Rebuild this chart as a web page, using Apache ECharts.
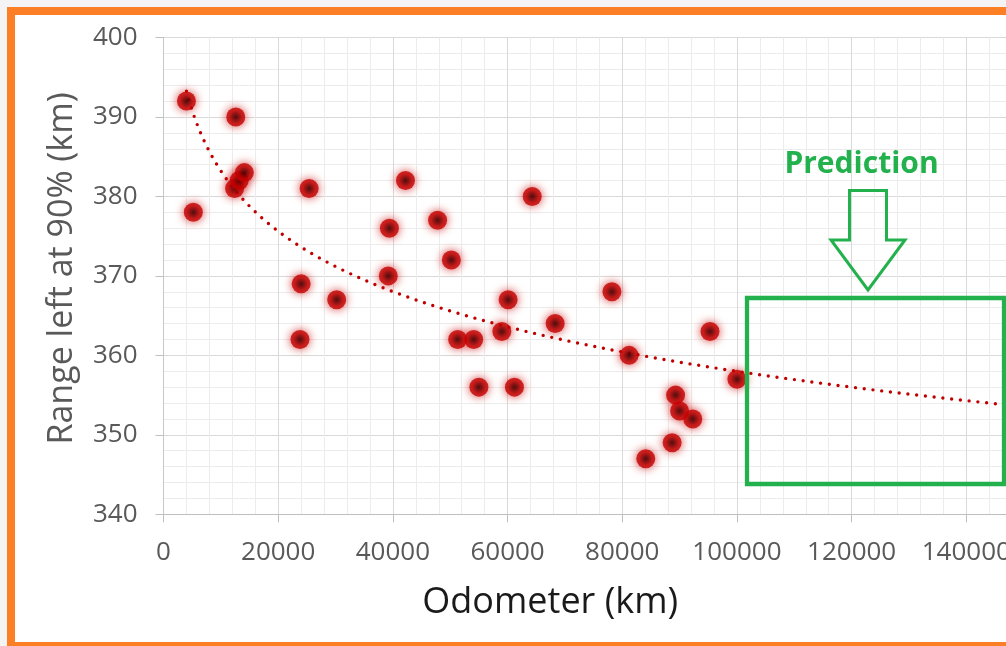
<!DOCTYPE html>
<html>
<head>
<meta charset="utf-8">
<script src="https://cdn.jsdelivr.net/npm/echarts@6/dist/echarts.min.js"></script>
<style>
  html, body { margin: 0; padding: 0; background: #f4f4f4; }
  #chart { width: 1006px; height: 646px; }
</style>
</head>
<body>
<div id="chart"></div>
<script>
// Odometer reading (km) and remaining range shown at 90% charge (km)
const odometerKm = [4000, 5200, 12600, 12400, 13200, 14100, 25400, 24000, 23800, 30200,
                    39400, 39200, 42200, 47800, 50200, 51300, 54100, 55000, 59000, 60100,
                    61200, 64300, 68300, 78200, 81200, 84100, 88700, 89300, 90000, 92300,
                    95300, 100000];
const rangeAt90Km = [392, 378, 390, 381, 382, 383, 381, 369, 362, 367,
                     376, 370, 382, 377, 372, 362, 362, 356, 363, 367,
                     356, 380, 364, 368, 360, 347, 349, 355, 353, 352,
                     363, 357];

// Axis bounds
const xBounds = [0, 160000];
const xStep = 20000;
const yBounds = [340, 400];
const yStep = 10;
// Trendline is projected forward to this odometer value
const forecastTo = 160000;

// Least-squares logarithmic fit: y = a + b * ln(x)
function logFit(xs, ys) {
  const n = xs.length;
  let sl = 0, sy = 0, sll = 0, sly = 0;
  for (let i = 0; i < n; i++) {
    const l = Math.log(xs[i]);
    sl += l; sy += ys[i]; sll += l * l; sly += l * ys[i];
  }
  const b = (n * sly - sl * sy) / (n * sll - sl * sl);
  const a = (sy - b * sl) / n;
  return { a, b };
}

const fit = logFit(odometerKm, rangeAt90Km);
const trendPoints = [];
const xStart = Math.min.apply(null, odometerKm);
for (let x = xStart; x <= forecastTo; x += 500) {
  trendPoints.push([x, fit.a + fit.b * Math.log(x)]);
}

const scatterPoints = odometerKm.map((x, i) => [x, rangeAt90Km[i]]);

const FONT = '"Open Sans", "Noto Sans", sans-serif';
const GREEN = '#22b14c';
const plainNumber = v => String(v);

const chart = echarts.init(document.getElementById('chart'), null, { renderer: 'canvas' });

chart.setOption({
  backgroundColor: '#f4f4f4',
  animation: false,
  grid: {
    left: 163.5, top: 37.5, right: -75, bottom: 131.7,
    containLabel: false,
    outerBoundsMode: 'none'
  },
  xAxis: {
    type: 'value',
    min: xBounds[0], max: xBounds[1], interval: xStep,
    name: 'Odometer (km)',
    nameLocation: 'middle',
    nameGap: 70,
    nameTextStyle: { fontFamily: FONT, fontSize: 36, color: '#1a1a1a', padding: [0, 144, 0, 0] },
    axisLine: { show: true, onZero: false, lineStyle: { color: '#bfbfbf', width: 1 } },
    axisTick: { show: true, length: 8, lineStyle: { color: '#bfbfbf' } },
    axisLabel: { fontFamily: FONT, fontSize: 26, color: '#595959', margin: 25, formatter: plainNumber },
    splitLine: { show: true, lineStyle: { color: '#d9d9d9', width: 1 } },
    minorTick: { show: false, splitNumber: 5 },
    minorSplitLine: { show: true, lineStyle: { color: '#ececec', width: 1 } }
  },
  yAxis: {
    type: 'value',
    min: yBounds[0], max: yBounds[1], interval: yStep,
    name: 'Range left at 90% (km)',
    nameLocation: 'middle',
    nameGap: 84,
    nameTextStyle: { fontFamily: FONT, fontSize: 34, color: '#595959', padding: [0, 0, 0, 15] },
    axisLine: { show: true, onZero: false, lineStyle: { color: '#c8c8c8', width: 1 } },
    axisTick: { show: true, length: 8, lineStyle: { color: '#bfbfbf' } },
    axisLabel: { fontFamily: FONT, fontSize: 26, color: '#595959', margin: 26, formatter: plainNumber },
    splitLine: { show: true, lineStyle: { color: '#d9d9d9', width: 1 } },
    minorTick: { show: false, splitNumber: 5 },
    minorSplitLine: { show: true, lineStyle: { color: '#ececec', width: 1 } }
  },
  series: [
    {
      name: 'Logarithmic trend',
      type: 'line',
      data: trendPoints,
      showSymbol: false,
      z: 1,
      silent: true,
      lineStyle: { color: '#c00000', width: 3.4, type: [0, 8.8], cap: 'round' }
    },
    {
      name: 'Range left at 90%',
      type: 'scatter',
      data: scatterPoints,
      symbol: 'circle',
      symbolSize: 19,
      z: 3,
      itemStyle: {
        color: {
          type: 'radial', x: 0.5, y: 0.5, r: 0.5,
          colorStops: [
            { offset: 0, color: '#2a0000' },
            { offset: 0.3, color: '#700000' },
            { offset: 0.65, color: '#bb0000' },
            { offset: 1, color: '#c80000' }
          ]
        },
        shadowBlur: 10,
        shadowColor: 'rgba(200, 0, 0, 0.95)'
      }
    }
  ],
  graphic: [
    {
      type: 'rect', z: -10, silent: true,
      shape: { x: 11, y: 11, width: 1100, height: 635 },
      style: { fill: '#ffffff', stroke: '#fc7f26', lineWidth: 8 }
    },
    {
      type: 'rect', z: 100, silent: true,
      shape: { x: 747, y: 298, width: 257, height: 186 },
      style: { fill: 'none', stroke: GREEN, lineWidth: 4.3 }
    },
    {
      type: 'polygon', z: 100, silent: true,
      shape: { points: [[849.5, 190.5], [886.5, 190.5], [886.5, 240], [905, 240], [868, 290], [831, 240], [849.5, 240]] },
      style: { fill: 'none', stroke: GREEN, lineWidth: 3 }
    },
    {
      type: 'text', z: 100, silent: true,
      x: 861.5, y: 164,
      style: {
        text: 'Prediction',
        font: 'bold 30px ' + FONT,
        fill: GREEN,
        align: 'center', verticalAlign: 'middle',
        textAlign: 'center', textVerticalAlign: 'middle'
      }
    }
  ]
});
</script>
</body>
</html>
